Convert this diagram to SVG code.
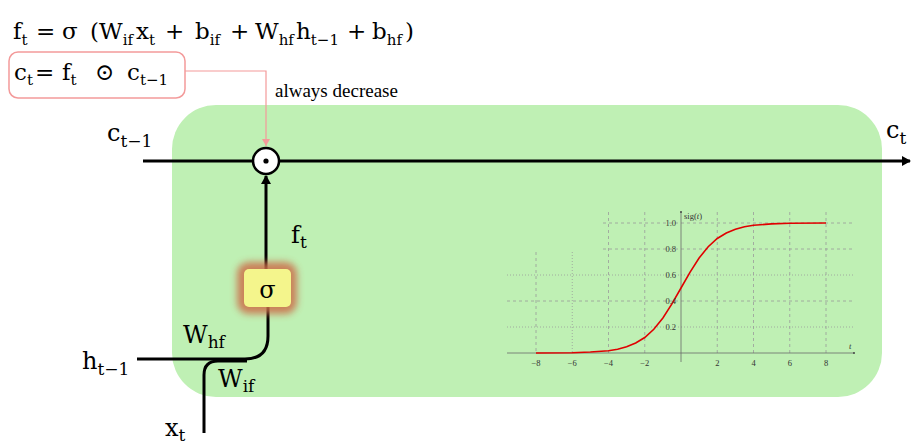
<svg xmlns="http://www.w3.org/2000/svg" width="920" height="448" viewBox="0 0 920 448">
<style>
.m{font-family:"DejaVu Serif","Liberation Serif",serif;fill:#000}
.t{font-family:"Liberation Serif","DejaVu Serif",serif;fill:#000}
.big{font-size:24px}
.sub{font-size:17px}
.wire{fill:none;stroke:#000;stroke-width:3}
.grid{stroke:#9a9a9a;stroke-width:0.8;stroke-dasharray:3,3;fill:none}
.dot{stroke:#9a9a9a;stroke-width:0.8;stroke-dasharray:1,2;fill:none}
.axis{stroke:#6a6a6a;stroke-width:0.8;fill:none}
.tk{font-family:"Liberation Serif",serif;font-size:8.5px;fill:#333}
</style>
<defs>
<marker id="ab" markerWidth="10" markerHeight="10" refX="8" refY="5" orient="auto" markerUnits="userSpaceOnUse">
<path d="M0,0 L9,5 L0,10 Z" fill="#000"/>
</marker>
<marker id="ap" markerWidth="8" markerHeight="8" refX="7" refY="4" orient="auto" markerUnits="userSpaceOnUse">
<path d="M0,0 L7,4 L0,8 Z" fill="#f39a9a"/>
</marker>
<filter id="glow" x="-50%" y="-50%" width="200%" height="200%">
<feGaussianBlur stdDeviation="3.5"/>
</filter>
</defs>

<g id="cell">
<rect x="172" y="105" width="710" height="292" rx="44" fill="#bff0b4"/>
</g>

<g id="chart">
<g class="grid">
<line x1="536" y1="252" x2="536" y2="353"/>
<line x1="608.5" y1="212" x2="608.5" y2="353"/>
<line x1="644.75" y1="212" x2="644.75" y2="353"/>
<line x1="717.25" y1="212" x2="717.25" y2="353"/>
<line x1="753.5" y1="212" x2="753.5" y2="353"/>
<line x1="789.75" y1="212" x2="789.75" y2="353"/>
<line x1="826" y1="212" x2="826" y2="353"/>
<line x1="603" y1="223" x2="855" y2="223"/>
<line x1="603" y1="249" x2="855" y2="249"/>
<line x1="507" y1="301" x2="855" y2="301"/>
</g>
<g class="dot">
<line x1="572.25" y1="252" x2="572.25" y2="353"/>
<line x1="507" y1="275" x2="855" y2="275"/>
<line x1="507" y1="327" x2="855" y2="327"/>
</g>
<line class="axis" x1="507" y1="353" x2="854" y2="353"/>
<line class="axis" x1="681" y1="212" x2="681" y2="362"/>
<circle cx="854" cy="353" r="1" fill="#444"/>
<circle cx="681" cy="212" r="1" fill="#444"/>
<polyline fill="none" stroke="#e00000" stroke-width="1.6" points="536,353 572.25,352.7 590.4,352 608.5,350.7 617.6,349.2 626.6,346.8 635.7,343 644.75,337.5 653.8,329.3 662.9,318 671.9,303.9 681,288 690.1,272.1 699.1,258 708.2,246.7 717.25,238.5 726.3,233 735.4,229.2 744.5,226.8 753.5,225.3 771.6,223.9 789.75,223.3 826,223"/>
<g class="tk" text-anchor="middle">
<text x="536" y="366">−8</text>
<text x="572.25" y="366">−6</text>
<text x="608.5" y="366">−4</text>
<text x="644.75" y="366">−2</text>
<text x="717.25" y="366">2</text>
<text x="753.5" y="366">4</text>
<text x="789.75" y="366">6</text>
<text x="826" y="366">8</text>
</g>
<g class="tk" text-anchor="end">
<text x="676" y="226">1.0</text>
<text x="676" y="252">0.8</text>
<text x="676" y="278">0.6</text>
<text x="676" y="304">0.4</text>
<text x="676" y="330">0.2</text>
</g>
<text class="tk" x="684" y="219">sig(<tspan font-style="italic">t</tspan>)</text>
<text class="tk" x="849" y="349" font-style="italic">t</text>
</g>

<g id="connectors">
<line class="wire" x1="143" y1="161" x2="254" y2="161"/>
<line class="wire" x1="280" y1="161" x2="910" y2="161" marker-end="url(#ab)"/>
<line class="wire" x1="266" y1="270" x2="266" y2="176" marker-end="url(#ab)"/>
<path class="wire" d="M137,359 H245 Q268,359 268,336 V305"/>
<path class="wire" d="M204,433 V375 Q204,361 218,361 H247"/>
<path d="M185,71 H266 V146" fill="none" stroke="#f39a9a" stroke-width="1.2" marker-end="url(#ap)"/>
</g>

<g id="mult">
<circle cx="266" cy="161" r="13" fill="#fff" stroke="#000" stroke-width="2.5"/>
<circle cx="266" cy="161" r="2.6" fill="#000"/>
</g>

<g id="sigma">
<rect x="237" y="262" width="60" height="52" rx="12" fill="#cc6e48" opacity="0.85" filter="url(#glow)"/>
<rect x="244" y="269" width="47" height="38" rx="5" fill="#f4f58c"/>
<text class="m" x="267.5" y="298" font-size="24" text-anchor="middle">σ</text>
</g>

<g id="labels">
<text class="m big" x="107" y="141">c<tspan class="sub" dy="6">t−1</tspan></text>
<text class="m big" x="886" y="138">c<tspan class="sub" dy="6">t</tspan></text>
<text class="m big" x="291" y="243">f<tspan class="sub" dy="5">t</tspan></text>
<text class="m big" x="183" y="343">W<tspan class="sub" dy="5">hf</tspan></text>
<text class="m big" x="218" y="387">W<tspan class="sub" dy="5">if</tspan></text>
<text class="m big" x="82" y="369">h<tspan class="sub" dy="6">t−1</tspan></text>
<text class="m big" x="165" y="436">x<tspan class="sub" dy="5">t</tspan></text>
</g>

<g id="formula">
<text class="m" x="13" y="39" font-size="23">f<tspan font-size="15" dy="6">t</tspan><tspan x="36" dy="-6">=</tspan><tspan x="62">σ</tspan><tspan x="90">(W</tspan><tspan font-size="15" dy="6">if</tspan><tspan x="136" dy="-6">x</tspan><tspan font-size="15" dy="6">t</tspan><tspan x="165" dy="-6">+</tspan><tspan x="195">b</tspan><tspan font-size="15" dy="6">if</tspan><tspan x="230" dy="-6">+</tspan><tspan x="255">W</tspan><tspan font-size="15" dy="6">hf</tspan><tspan x="296" dy="-6">h</tspan><tspan font-size="15" dy="6">t−1</tspan><tspan x="347" dy="-6">+</tspan><tspan x="372">b</tspan><tspan font-size="15" dy="6">hf</tspan><tspan x="405" dy="-6">)</tspan></text>
</g>

<g id="cell-eq">
<rect x="9" y="52" width="176" height="46" rx="9" fill="#fff" stroke="#f39a9a" stroke-width="1.5"/>
<text class="m" x="14" y="80" font-size="23">c<tspan font-size="15" dy="5">t</tspan><tspan x="35" dy="-5">=</tspan><tspan x="62">f</tspan><tspan font-size="15" dy="5">t</tspan><tspan x="95" dy="-5">⊙</tspan><tspan x="127">c</tspan><tspan font-size="15" dy="5">t−1</tspan></text>
<text class="t" x="275" y="97" font-size="19">always decrease</text>
</g>
</svg>
